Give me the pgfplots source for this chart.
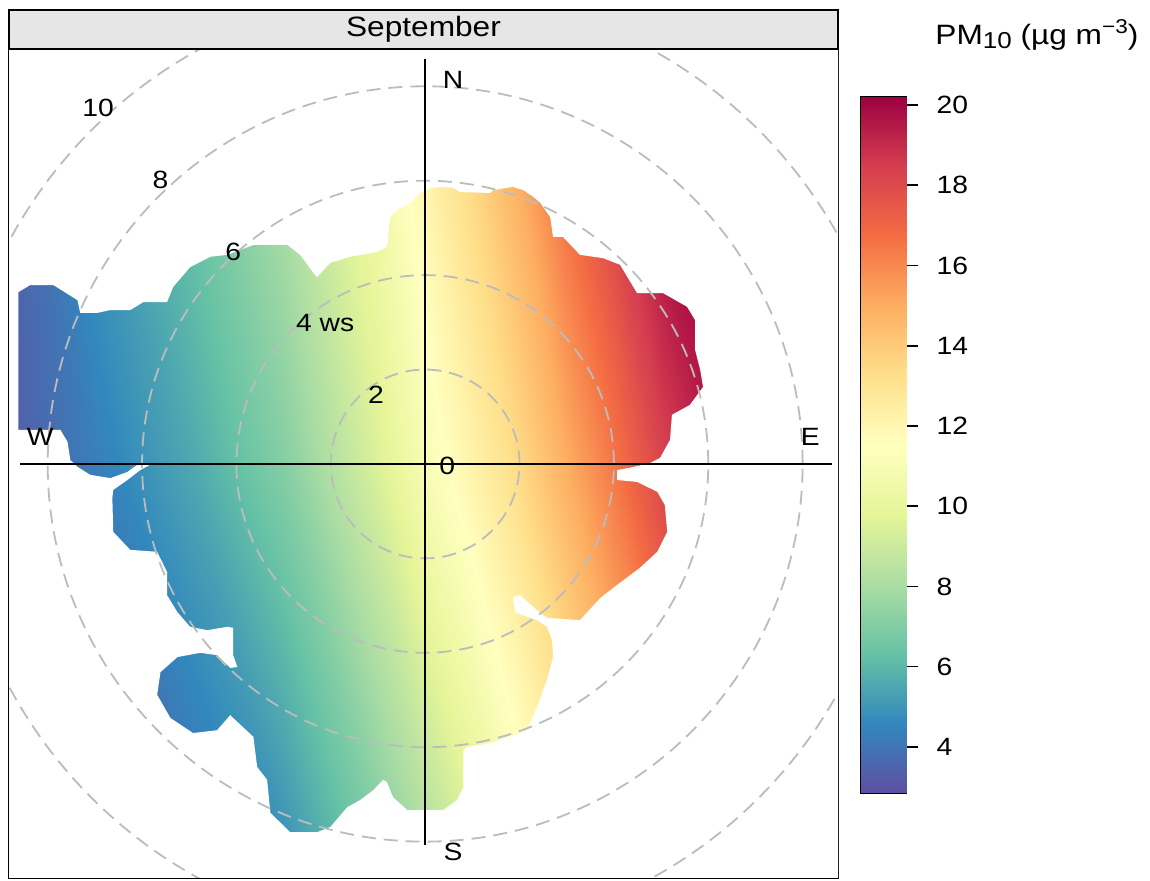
\documentclass[border=0pt]{standalone}
\usepackage{fontspec}
\setmainfont{Liberation Sans}[FakeStretch=1.13]
\usepackage{pgfplots}
\pgfplotsset{compat=1.18}
\pgfplotsset{colormap={spectralr}{rgb255=(94,79,162) rgb255=(50,136,189) rgb255=(102,194,165) rgb255=(171,221,164) rgb255=(230,245,152) rgb255=(255,255,191) rgb255=(254,224,139) rgb255=(253,174,97) rgb255=(244,109,67) rgb255=(213,62,79) rgb255=(158,1,66)}}
\definecolor{ringgray}{RGB}{188,188,188}
\definecolor{stripgray}{RGB}{230,230,230}
\begin{document}
\fontsize{12.5}{15}\selectfont
\begin{tikzpicture}
\path (-4.5pt,-1.5pt) rectangle (570.5pt,439pt);
\begin{axis}[
  at={(0pt,0pt)}, anchor=south west,
  width=414.5pt, height=414.5pt, scale only axis,
  xmin=-8.82, xmax=8.75, ymin=-8.77, ymax=8.79,
  xtick=\empty, ytick=\empty,
  axis line style={line width=1pt},
  point meta min=2.85, point meta max=20.2,
]
% colour field (PM10 value varies with x and y)
\addplot[surf, shader=interp, mesh/cols=12, point meta=explicit] table[meta=c] {
x y c
-8.7 -8 2.9
-7 -8 3.1
-5 -8 3.8
-3 -8 4.9
-1 -8 7.0
0 -8 8.2
1 -8 9.5
2 -8 10.9
3 -8 12.4
4 -8 13.8
5 -8 15.2
6 -8 16.8
-8.7 0 3.3
-7 0 4.3
-5 0 5.5
-3 0 7.1
-1 0 9.5
0 0 11.0
1 0 12.2
2 0 13.5
3 0 15.0
4 0 16.5
5 0 18.2
6 0 19.3
-8.7 6 3.6
-7 6 5.0
-5 6 6.4
-3 6 8.1
-1 6 10.5
0 6 12.1
1 6 13.5
2 6 15.0
3 6 16.8
4 6 18.4
5 6 19.9
6 6 20.2
};
% white mask outside the data region
\addplot[fill=white, draw=none, even odd rule] coordinates {
(0,10) (10,10) (10,-10) (-10,-10) (-10,10) (0,10)
(0,5.80) (0.17,5.85) (0.32,5.87) (0.59,5.85) (0.74,5.76) (1.38,5.74) (1.44,5.80) (1.86,5.87) (2.08,5.80) (2.29,5.66) (2.44,5.53)
(2.65,5.23) (2.71,4.81) (2.92,4.81) (3.28,4.43) (3.77,4.36) (4.13,4.22) (4.49,3.62) (5.04,3.62) (5.55,3.33) (5.72,3.05)
(5.72,2.42) (5.83,1.99) (5.89,1.63) (5.61,1.25) (5.23,1.04) (5.19,0.51) (4.98,0.13) (4.77,0.02) (4.34,-0.08) (4.07,-0.13)
(4.07,-0.34) (4.49,-0.38) (4.92,-0.59) (5.08,-0.87) (5.13,-1.44) (4.92,-1.86) (4.55,-2.20) (4.07,-2.56) (3.71,-2.84) (3.28,-3.31)
(2.58,-3.26) (2.44,-3.16) (2.01,-2.78) (1.86,-2.82) (1.91,-3.14) (2.37,-3.31) (2.58,-3.45) (2.69,-3.73) (2.71,-4.09) (2.58,-4.58)
(2.37,-5.15) (2.16,-5.64) (1.80,-5.78) (1.38,-5.91) (0.89,-6.00) (0.81,-6.06) (0.81,-6.84) (0.68,-7.12) (0.38,-7.33) (-0.38,-7.33)
(-0.68,-7.06) (-0.81,-6.74) (-0.89,-6.69) (-1.10,-6.91) (-1.38,-7.12) (-1.65,-7.27) (-2.01,-7.69) (-2.29,-7.80) (-2.86,-7.80) (-3.28,-7.39)
(-3.35,-6.69) (-3.56,-6.42) (-3.64,-5.78) (-4.07,-5.38) (-4.13,-5.32) (-4.41,-5.64) (-4.92,-5.70) (-5.40,-5.38) (-5.68,-4.89) (-5.61,-4.41)
(-5.25,-4.09) (-4.77,-4.00) (-4.41,-4.05) (-4.13,-4.32) (-3.98,-4.30) (-4.07,-4.05) (-4.07,-3.47) (-4.19,-3.45) (-4.62,-3.52) (-4.98,-3.45)
(-5.25,-3.14) (-5.47,-2.78) (-5.47,-2.29) (-5.68,-1.86) (-6.25,-1.82) (-6.61,-1.44) (-6.63,-0.72) (-6.61,-0.55) (-6.31,-0.34) (-6.04,-0.13)
(-5.76,0.02) (-6.04,0.02) (-6.19,-0.08) (-6.31,-0.17) (-6.67,-0.30) (-7.10,-0.23) (-7.37,-0.06) (-7.52,0.08) (-7.58,0.47) (-7.73,0.72)
(-8.62,0.72) (-8.62,3.64) (-8.37,3.79) (-7.88,3.79) (-7.37,3.47) (-7.31,3.20) (-6.95,3.20) (-6.67,3.26) (-6.25,3.26) (-5.97,3.43)
(-5.47,3.43) (-5.34,3.75) (-4.98,4.17) (-4.55,4.39) (-4.19,4.43) (-3.64,4.64) (-2.92,4.64) (-2.65,4.43) (-2.37,4.05) (-2.29,3.96)
(-2.01,4.26) (-1.59,4.39) (-1.02,4.49) (-0.81,4.60) (-0.74,5.23) (-0.59,5.38) (-0.32,5.53) (-0.11,5.74) (0,5.80)
};
% dashed speed rings
\pgfplotsinvokeforeach{2,4,6,8,10}{
  \draw[ringgray, line width=0.9pt, dash pattern=on 7pt off 4pt] (axis cs:0,0) circle[radius=#1];
}
% compass axes
\draw[black, line width=0.9pt] (axis cs:-8.58,0) -- (axis cs:8.62,0);
\draw[black, line width=0.9pt] (axis cs:0,8.58) -- (axis cs:0,-8.07);
\node at (axis cs:0.59,8.14) {N};
\node at (axis cs:0.59,-8.22) {S};
\node at (axis cs:-8.16,0.57) {W};
\node at (axis cs:8.16,0.57) {E};
% ring labels
\node at (axis cs:-6.93,7.54) {10};
\node at (axis cs:-5.61,6.02) {8};
\node at (axis cs:-4.07,4.49) {6};
\node at (axis cs:-2.12,2.99) {4 ws};
\node at (axis cs:-1.04,1.46) {2};
\node at (axis cs:0.47,-0.04) {0};
\end{axis}
% colour key
\begin{axis}[
  at={(426pt,42.5pt)}, anchor=south west,
  width=22.5pt, height=348pt, scale only axis,
  xmin=0, xmax=1, ymin=2.85, ymax=20.2,
  xtick=\empty, ytick={4,6,...,20},
  ytick pos=right, yticklabel pos=right,
  tick align=outside, major tick length=6pt,
  tick style={black, line width=0.8pt},
  axis line style={line width=1pt},
  yticklabel style={xshift=5pt},
  point meta min=2.85, point meta max=20.2,
  /pgf/number format/assume math mode=true,
]
\addplot[surf, shader=interp, mesh/cols=2, point meta=y] table {
x y
0 2.85
1 2.85
0 20.2
1 20.2
};
\end{axis}
% strip
\draw[line width=1pt, fill=stripgray] (0pt,414.5pt) rectangle (414.5pt,434pt);
\node[font=\fontsize{14}{16}\selectfont] at (207.25pt,424.25pt) {September};
% colour key title
\node[anchor=base west, inner sep=0pt, font=\fontsize{14}{16}\selectfont] at (463pt,416.5pt)
  {PM{\fontsize{11.5}{11}\selectfont\raisebox{-0.3ex}{10}} (µg m{\fontsize{10}{10}\selectfont\raisebox{1.1ex}{−3}})};
\end{tikzpicture}
\end{document}
